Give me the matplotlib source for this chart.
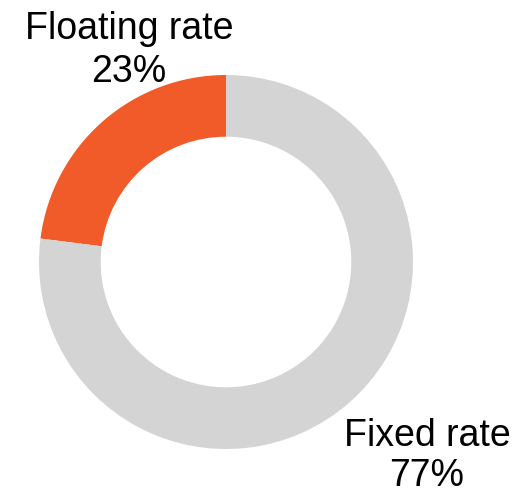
import matplotlib.pyplot as plt

labels = ["Floating rate", "Fixed rate"]
shares = [23, 77]
colors = ["#F15A29", "#D4D4D4"]

W, H = 515, 494
fig = plt.figure(figsize=(W / 100, H / 100), dpi=100)

# donut centred at (226, 262) px, outer radius 187 px
cx, cy, r = 226, 262, 187
ax = fig.add_axes([(cx - r) / W, (H - cy - r) / H, 2 * r / W, 2 * r / H])
ax.pie(shares, colors=colors, startangle=90, counterclock=True,
       radius=1, wedgeprops=dict(width=0.33, linewidth=0))
ax.set_xlim(-1, 1)
ax.set_ylim(-1, 1)
ax.set_aspect("equal")
ax.axis("off")

font = dict(family="Liberation Sans", fontsize=27, ha="center", va="baseline", color="black")
# label name and percentage on separate baselines (pixel y from top)
for (x, y1, y2), lab, v in zip([(129, 39, 82), (427, 446, 486)], labels, shares):
    fig.text(x / W, 1 - y1 / H, lab, **font)
    fig.text(x / W, 1 - y2 / H, f"{v}%", **font)

fig.savefig("out.png", dpi=100)
